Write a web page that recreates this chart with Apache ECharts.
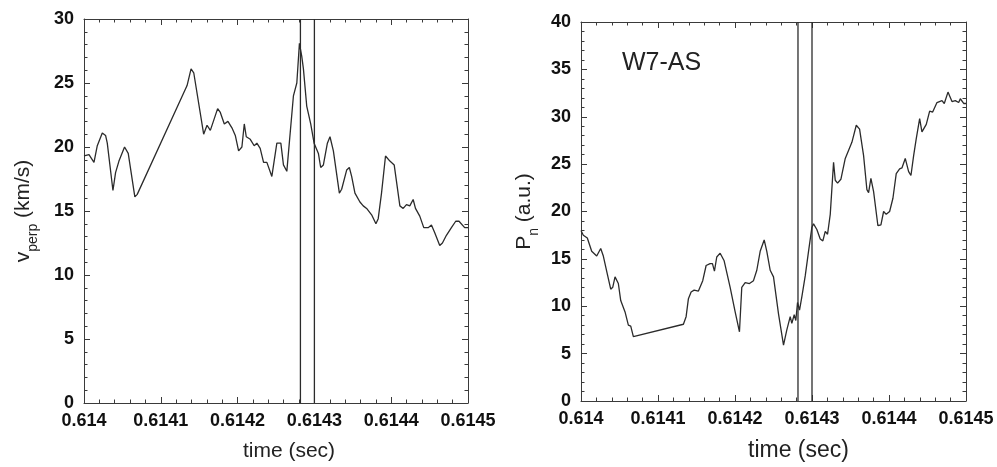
<!DOCTYPE html>
<html>
<head>
<meta charset="utf-8">
<script src="https://cdn.jsdelivr.net/npm/echarts@6/dist/echarts.min.js"></script>
<style>
html,body{margin:0;padding:0;background:#fff;}
#chart{width:997px;height:467px;}
</style>
</head>
<body>
<div id="chart"></div>
<script>
// Left panel: v_perp (km/s) vs time (sec)
const timeLeft = [0.6140000,0.6140065,0.6140130,0.6140173,0.6140238,0.6140281,0.6140303,0.6140377,0.6140411,0.6140455,0.6140528,0.6140576,0.6140662,0.6140693,0.6141342,0.6141394,0.6141429,0.6141558,0.6141602,0.6141645,0.6141740,0.6141775,0.6141827,0.6141874,0.6141926,0.6141970,0.6142013,0.6142056,0.6142087,0.6142113,0.6142165,0.6142216,0.6142251,0.6142294,0.6142338,0.6142381,0.6142446,0.6142511,0.6142563,0.6142597,0.6142641,0.6142727,0.6142771,0.6142805,0.6142835,0.6142857,0.6142900,0.6142952,0.6142996,0.6143052,0.6143082,0.6143117,0.6143169,0.6143203,0.6143247,0.6143325,0.6143355,0.6143420,0.6143455,0.6143485,0.6143528,0.6143593,0.6143636,0.6143680,0.6143745,0.6143801,0.6143831,0.6143874,0.6143926,0.6143983,0.6144039,0.6144113,0.6144156,0.6144199,0.6144242,0.6144286,0.6144316,0.6144372,0.6144424,0.6144481,0.6144524,0.6144567,0.6144632,0.6144667,0.6144719,0.6144784,0.6144840,0.6144883,0.6144957,0.6145000];
const vperp = [19.3,19.4,18.8,20.1,21.1,20.9,20.3,16.6,18.0,18.9,20.0,19.5,16.1,16.3,24.8,26.1,25.8,21.0,21.7,21.3,23.0,22.7,21.8,22.0,21.5,20.9,19.7,20.0,21.8,20.8,20.6,20.1,20.3,19.9,18.8,18.8,17.7,20.3,20.3,18.6,18.1,24.0,25.0,28.1,27.1,26.1,23.2,21.8,20.3,19.5,18.4,18.6,20.3,20.8,19.7,16.4,16.7,18.2,18.4,17.7,16.4,15.7,15.4,15.2,14.7,14.0,14.4,16.4,19.3,18.9,18.6,15.4,15.2,15.5,15.4,15.9,15.2,14.6,13.7,13.7,13.9,13.3,12.3,12.5,13.1,13.7,14.2,14.2,13.7,13.7];

// Right panel: P_n (a.u.) vs time (sec)
const timeRight = [0.6140000,0.6140030,0.6140082,0.6140139,0.6140204,0.6140225,0.6140256,0.6140290,0.6140342,0.6140386,0.6140412,0.6140442,0.6140485,0.6140516,0.6140572,0.6140615,0.6140646,0.6140680,0.6140702,0.6141330,0.6141365,0.6141395,0.6141430,0.6141469,0.6141525,0.6141581,0.6141625,0.6141677,0.6141707,0.6141733,0.6141763,0.6141807,0.6141859,0.6141937,0.6142002,0.6142058,0.6142088,0.6142132,0.6142188,0.6142240,0.6142283,0.6142327,0.6142379,0.6142413,0.6142457,0.6142500,0.6142565,0.6142630,0.6142673,0.6142717,0.6142738,0.6142769,0.6142790,0.6142812,0.6142838,0.6142868,0.6142912,0.6142955,0.6142998,0.6143020,0.6143063,0.6143107,0.6143141,0.6143172,0.6143202,0.6143237,0.6143280,0.6143302,0.6143332,0.6143375,0.6143432,0.6143518,0.6143575,0.6143618,0.6143670,0.6143713,0.6143735,0.6143765,0.6143800,0.6143856,0.6143895,0.6143930,0.6143964,0.6144008,0.6144051,0.6144094,0.6144138,0.6144168,0.6144211,0.6144255,0.6144285,0.6144320,0.6144354,0.6144398,0.6144428,0.6144484,0.6144528,0.6144567,0.6144623,0.6144688,0.6144718,0.6144766,0.6144818,0.6144861,0.6144905,0.6144926,0.6144970,0.6145000];
const pn = [18.0,17.5,17.2,15.8,15.3,15.2,16.1,15.3,13.4,11.8,12.0,13.1,12.4,10.6,9.4,8.0,7.9,6.8,6.7,8.1,8.9,10.8,11.5,11.7,11.6,12.7,14.3,14.5,14.5,13.7,15.2,15.6,14.8,12.0,9.4,7.3,12.0,12.5,12.4,12.7,13.8,15.8,17.0,15.8,13.8,13.1,9.2,5.9,7.5,8.9,8.2,9.1,8.5,10.4,9.6,11.0,13.2,15.8,18.3,18.7,18.1,17.1,16.9,17.9,17.6,19.7,25.2,23.3,23.0,23.4,25.6,27.3,29.1,28.7,25.9,22.3,22.0,23.5,22.1,18.5,18.6,20.0,19.7,20.0,21.4,24.0,24.5,24.6,25.6,24.2,23.8,25.9,27.7,29.8,28.4,29.2,30.6,30.5,31.5,31.7,31.4,32.6,31.6,31.7,31.5,31.9,31.4,31.4];

// Vertical marker lines (sec)
const markerTimes = [0.6142818, 0.6143];

const xTicks = {min: 0.614, max: 0.6145, interval: 0.0001};
const leftY = {min: 0, max: 30, interval: 5};
const rightY = {min: 0, max: 40, interval: 5};

const FONT = 'Liberation Sans, Arial, Helvetica, sans-serif';
const AX = '#3a3a3a';
const LINE = '#2b2b2b';

function xAxes(gridIndex, nameSize, namePad) {
  const common = {
    type: 'value', gridIndex: gridIndex,
    min: xTicks.min, max: xTicks.max, interval: xTicks.interval,
    axisLine: {show: true, onZero: false, lineStyle: {color: AX, width: 1}},
    axisTick: {show: true, inside: true, length: 6, lineStyle: {color: AX}},
    minorTick: {show: true, splitNumber: 5, length: 3.5, lineStyle: {color: AX}},
    splitLine: {show: false}
  };
  return [
    Object.assign({}, common, {
      position: 'bottom',
      name: 'time (sec)', nameLocation: 'middle', nameGap: 38,
      nameTextStyle: {fontFamily: FONT, fontSize: nameSize, color: '#222', padding: [0, 0, 0, namePad]},
      axisLabel: {fontFamily: FONT, fontSize: 18, fontWeight: 'bold', color: '#111', margin: 9,
        formatter: v => String(+v.toFixed(4))}
    }),
    Object.assign({}, common, {position: 'top', axisLabel: {show: false}})
  ];
}

function yAxes(gridIndex, range, name, nameGap) {
  const common = {
    type: 'value', gridIndex: gridIndex,
    min: range.min, max: range.max, interval: range.interval,
    axisLine: {show: true, onZero: false, lineStyle: {color: AX, width: 1}},
    axisTick: {show: true, inside: true, length: 6, lineStyle: {color: AX}},
    minorTick: {show: true, splitNumber: 5, length: 3.5, lineStyle: {color: AX}},
    splitLine: {show: false}
  };
  return [
    Object.assign({}, common, {
      position: 'left',
      name: name, nameLocation: 'middle', nameGap: nameGap, nameRotate: 90,
      nameTextStyle: {
        fontFamily: FONT, color: '#222',
        rich: {
          n: {fontFamily: FONT, fontSize: 21, color: '#222', verticalAlign: 'bottom', lineHeight: 26},
          s: {fontFamily: FONT, fontSize: 14, color: '#222', verticalAlign: 'bottom', lineHeight: 26, padding: [0, 0, -6, 0]}
        }
      },
      axisLabel: {fontFamily: FONT, fontSize: 18, fontWeight: 'bold', color: '#111', margin: 10}
    }),
    Object.assign({}, common, {position: 'right', axisLabel: {show: false}})
  ];
}

function lineSeries(xi, yi, xs, ys) {
  return {
    type: 'line', xAxisIndex: xi, yAxisIndex: yi,
    data: xs.map((t, i) => [t, ys[i]]),
    showSymbol: false, symbol: 'none', animation: false,
    lineStyle: {color: LINE, width: 1.3}
  };
}

function markerSeries(xi, yi, range) {
  return markerTimes.map(t => ({
    type: 'line', xAxisIndex: xi, yAxisIndex: yi,
    data: [[t, range.min], [t, range.max]],
    showSymbol: false, symbol: 'none', animation: false, silent: true,
    lineStyle: {color: LINE, width: 1.3}
  }));
}

const chart = echarts.init(document.getElementById('chart'), null, {renderer: 'canvas'});
const xs = xAxes(0, 21, 26).concat(xAxes(1, 23, 50));
const ys = yAxes(0, leftY, '{n|v}{s|perp}{n| (km/s)}', 50).concat(yAxes(1, rightY, '{n|P}{s|n}{n| (a.u.)}', 46));

chart.setOption({
  animation: false,
  backgroundColor: '#fff',
  grid: [
    {left: 84, top: 19, width: 384, height: 384},
    {left: 581, top: 22, width: 385, height: 384}
  ],
  title: {
    text: 'W7-AS', left: 617, top: 46,
    textStyle: {fontFamily: FONT, fontSize: 25, fontWeight: 'normal', color: '#222'}
  },
  xAxis: xs,
  yAxis: ys,
  series: [
    lineSeries(0, 0, timeLeft, vperp),
    lineSeries(2, 2, timeRight, pn)
  ].concat(markerSeries(0, 0, leftY), markerSeries(2, 2, rightY))
});
</script>
</body>
</html>
